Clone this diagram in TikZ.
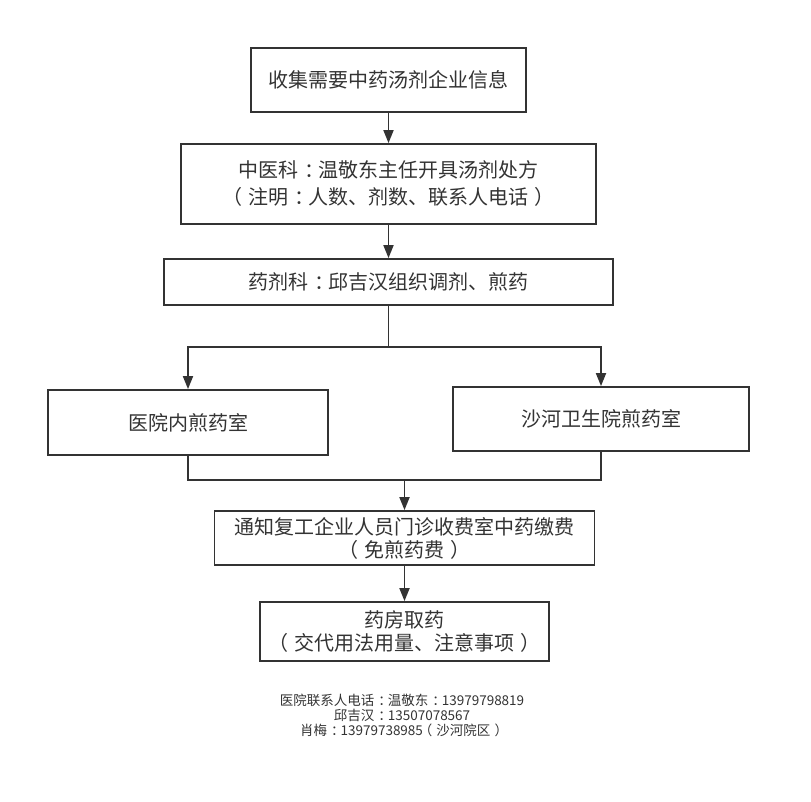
\documentclass[tikz,border=0pt]{standalone}
\usepackage{fontspec}
\setmainfont{Noto Sans CJK SC}
\usetikzlibrary{arrows.meta}
\definecolor{ink}{HTML}{333333}
\newcommand{\zcol}{{\kern0.3em：\kern-0.3em}}
\newcommand{\zlp}{{\kern-0.3em（\kern0.3em}}
\newcommand{\zrp}{{\kern0.3em）\kern-0.3em}}
\tikzset{
  box/.style={draw=ink, line width=1.8pt, rectangle, inner sep=0pt, align=center, text=ink, font=\fontsize{20}{27}\selectfont},
  arrowline/.style={draw=ink, line width=1.8pt, -{Triangle[length=13pt,width=10pt]}},
  plainline/.style={draw=ink, line width=1.8pt},
}
\begin{document}
\begin{tikzpicture}[x=1pt,y=-1pt]
\useasboundingbox (0,0) rectangle (811,802);
\node[box, minimum width=275pt, minimum height=64pt] (b1) at (388.5,80) {收集需要中药汤剂企业信息};
\node[box, minimum width=415pt, minimum height=80pt] (b2) at (388.5,184) {中医科\zcol 温敬东主任开具汤剂处方\\\zlp 注明\zcol 人数、剂数、联系人电话\zrp};
\node[box, minimum width=449pt, minimum height=46pt] (b3) at (388.5,282) {药剂科\zcol 邱吉汉组织调剂、煎药};
\node[box, minimum width=280pt, minimum height=65pt] (b4) at (188,422.5) {医院内煎药室};
\node[box, minimum width=296pt, minimum height=64pt] (b5) at (601,419) {沙河卫生院煎药室};
\node[box, minimum width=380pt, minimum height=54pt, font=\fontsize{20}{23}\selectfont] (b6) at (404.5,538) {通知复工企业人员门诊收费室中药缴费\\\zlp 免煎药费\zrp};
\node[box, minimum width=289pt, minimum height=59pt, font=\fontsize{20}{22.5}\selectfont] (b7) at (404.5,631.5) {药房取药\\\zlp 交代用法用量、注意事项\zrp};
\node[align=center, text=ink, font=\fontsize{13.5}{15}\selectfont, inner sep=0pt] (note) at (402,715.5) {医院联系人电话\zcol 温敬东\zcol 13979798819\\邱吉汉\zcol 13507078567\\肖梅\zcol 13979738985\zlp 沙河院区\zrp};
\coordinate (j1) at (388.5,347);
\coordinate (j2) at (404.5,480);
\draw[arrowline] (b1.south) -- (b2.north);
\draw[arrowline] (b2.south) -- (b3.north);
\draw[plainline] (b3.south) -- (j1);
\draw[arrowline] (j1) -| (b4.north);
\draw[arrowline] (j1) -| (b5.north);
\draw[plainline] (b4.south) |- (j2);
\draw[plainline] (b5.south) |- (j2);
\draw[arrowline] (j2) -- (b6.north);
\draw[arrowline] (b6.south) -- (b7.north);
\end{tikzpicture}
\end{document}
